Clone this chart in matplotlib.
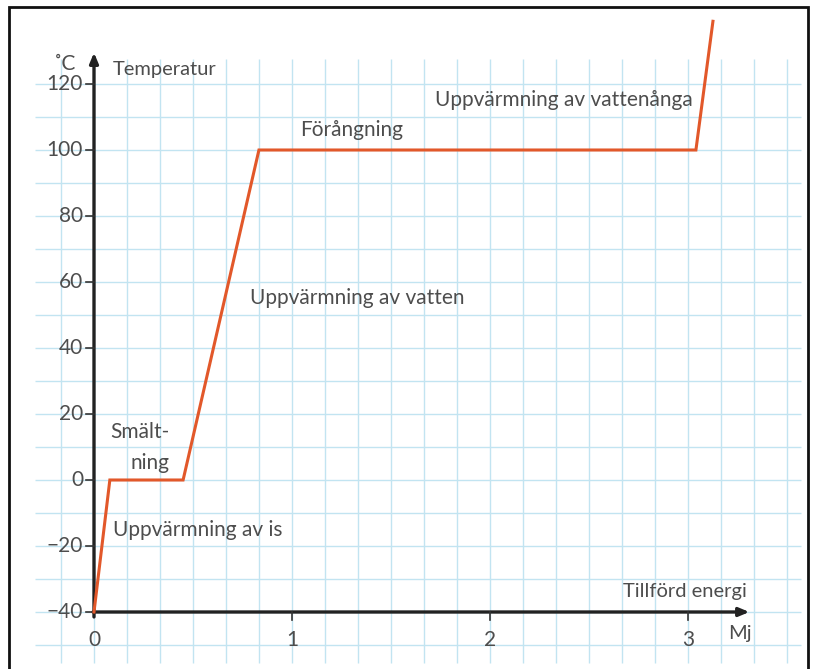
import matplotlib.pyplot as plt
import matplotlib.patches as mpatches
import numpy as np

# Heating curve for water (energy in MJ, temperature in °C)
energy = [0.0, 0.08, 0.45, 0.833, 3.04, 3.126]
temperature = [-40, 0, 0, 100, 100, 139]

y_ticks = [-40, -20, 0, 20, 40, 60, 80, 100, 120]
x_ticks = [0, 1, 2, 3]

FONT = "Lato"
TEXT_COLOR = "#4d4d4d"
GRID_COLOR = "#c2e4f1"
LINE_COLOR = "#e2582a"

fig = plt.figure(figsize=(8.16, 6.69), dpi=100)
ax = fig.add_axes([0, 0, 1, 1])
ax.set_axis_off()

# pixel mapping: x=0 at 94px, 198 px per MJ; y=0 at 480px, 3.3 px per degree
ax.set_xlim(-94 / 198, (816 - 94) / 198)
ax.set_ylim(-(669 - 480) / 3.3, 480 / 3.3)

# Squared paper grid
gx = np.arange(-1, 22) / 6
gy = np.arange(-50, 121, 10)
ax.vlines(gx, -55.5, 127.5, color=GRID_COLOR, lw=1.0, zorder=1)
ax.hlines(gy, -0.3, 3.57, color=GRID_COLOR, lw=1.0, zorder=1)

# Axes with arrows
ax.annotate("", xy=(0, 129.5), xytext=(0, -41.5),
            arrowprops=dict(arrowstyle="-|>,head_length=0.6,head_width=0.25",
                            color="#222222", lw=2.4, shrinkA=0, shrinkB=0), zorder=3)
ax.annotate("", xy=(3.31, -40), xytext=(-0.005, -40),
            arrowprops=dict(arrowstyle="-|>,head_length=0.6,head_width=0.25",
                            color="#222222", lw=2.4, shrinkA=0, shrinkB=0), zorder=3)

# Tick marks and labels
for t in y_ticks:
    ax.plot([-0.04, 0], [t, t], color="#333333", lw=1.2, zorder=3)
    label = str(t).replace("-", "\u2212")
    ax.text(-0.055, t, label, ha="right", va="center", fontsize=15,
            family=FONT, color=TEXT_COLOR)
for t in x_ticks:
    if t > 0:
        ax.plot([t, t], [-40, -42.5], color="#333333", lw=1.2, zorder=3)
    ax.text(t, -48.5, str(t), ha="center", va="center", fontsize=15,
            family=FONT, color=TEXT_COLOR)

# Curve
ax.plot(energy, temperature, color=LINE_COLOR, lw=2.2, solid_joinstyle="miter",
        zorder=4)

# Labels
def label(x_px, y_px, s, ha="left", size=15):
    ax.text((x_px - 94) / 198, (480 - y_px) / 3.3, s, ha=ha, va="center",
            fontsize=size, family=FONT, color=TEXT_COLOR, zorder=5)

label(54, 64, "˚C")
label(113, 70, "Temperatur", size=14.5)
label(300, 130, "Förångning")
label(435, 100, "Uppvärmning av vattenånga")
label(250, 298, "Uppvärmning av vatten")
label(110, 432, "Smält-")
label(130, 463, "ning")
label(113, 530, "Uppvärmning av is")
label(623, 591, "Tillförd energi", size=14.5)
label(728, 633, "Mj", size=14.5)

# Frame around the picture
fig.patches.append(mpatches.Rectangle((9 / 816, -0.01), 799 / 816, 1 - 7 / 669 + 0.01,
                                      transform=fig.transFigure, fill=False,
                                      edgecolor="#111111", lw=2.0))

fig.savefig("out.png", dpi=100)
